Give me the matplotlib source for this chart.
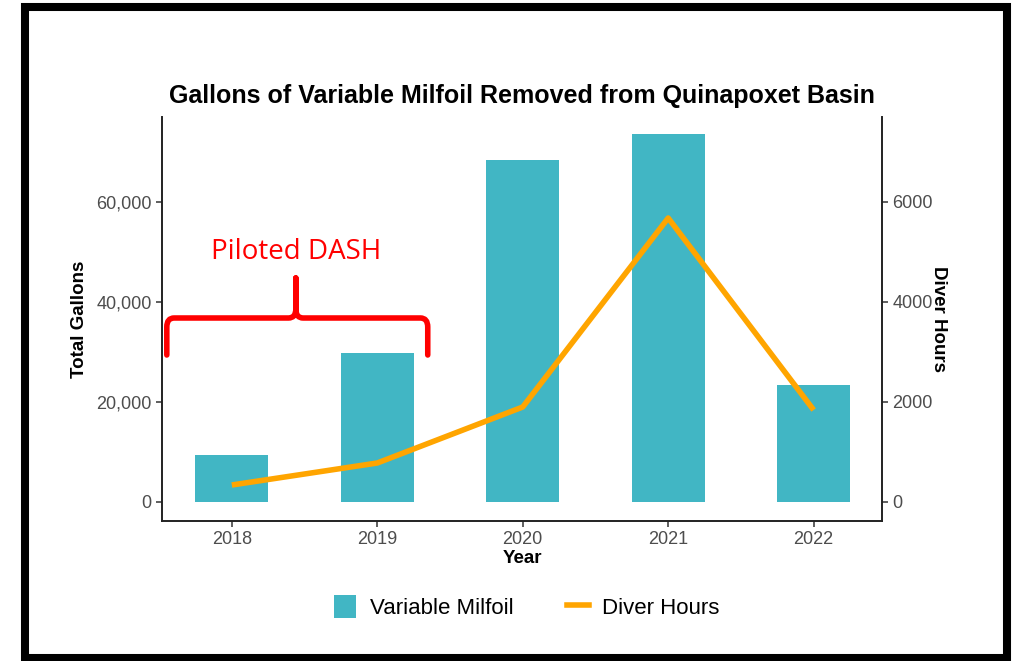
import matplotlib.pyplot as plt
from matplotlib.patches import Rectangle, PathPatch, Patch
from matplotlib.lines import Line2D
from matplotlib.path import Path
from matplotlib.ticker import FuncFormatter

plt.rcParams["font.family"] = ["Liberation Sans", "DejaVu Sans"]

years = ["2018", "2019", "2020", "2021", "2022"]
gallons = [9400, 29800, 68400, 73600, 23400]
diver_hours = [340, 780, 1900, 5680, 1840]

bar_color = "#41b6c4"
line_color = "#ffa500"
tick_gray = "#4d4d4d"

fig = plt.figure(figsize=(10.15, 6.61), dpi=100)
ax = fig.add_axes([162 / 1015, 1 - 521 / 661, 720 / 1015, 404 / 661])
x = range(len(years))
ax.bar(x, gallons, width=0.5, color=bar_color, zorder=2)
ax.set_xlim(-0.48, 4.47)
ax.set_ylim(-3800, 77000)
ax.set_yticks([0, 20000, 40000, 60000])
ax.yaxis.set_major_formatter(FuncFormatter(lambda v, p: f"{int(v):,}"))
ax.set_xticks(list(x))
ax.set_xticklabels(years)

ax2 = ax.twinx()
ax2.plot(x, diver_hours, color=line_color, lw=4, solid_capstyle="butt", zorder=3)
ax2.set_ylim(-380, 7700)
ax2.set_yticks([0, 2000, 4000, 6000])

for a in (ax, ax2):
    a.spines["top"].set_visible(False)
    for s in ("left", "right", "bottom"):
        a.spines[s].set_linewidth(1.4)
        a.spines[s].set_color("#222222")
    a.tick_params(labelsize=13, colors=tick_gray, width=1.1, length=4)
    a.tick_params(axis="both", color="#333333")
ax.spines["right"].set_visible(False)
ax2.spines["left"].set_visible(False)
ax2.spines["bottom"].set_visible(False)

ax.set_xlabel("Year", fontsize=13.5, fontweight="bold", labelpad=1)
ax.set_ylabel("Total Gallons", fontsize=13.5, fontweight="bold", labelpad=6)
ax2.set_ylabel("Diver Hours", fontsize=13.5, fontweight="bold", rotation=-90, labelpad=10)
ax.set_title("Gallons of Variable Milfoil Removed from Quinapoxet Basin",
             fontsize=18, fontweight="bold", pad=10)

# brace annotation
x0, x1, xm = -0.447, 1.347, 0.44
yb, yh, yt = 29400, 36800, 44800
rx, ry = 0.05, 1800
verts = [(x0, yb), (x0, yh - ry), (x0, yh), (x0 + rx, yh),
         (xm - rx, yh), (xm, yh), (xm, yh + ry), (xm, yt),
         (xm, yh + ry), (xm, yh), (xm + rx, yh),
         (x1 - rx, yh), (x1, yh), (x1, yh - ry), (x1, yb)]
codes = [Path.MOVETO, Path.LINETO, Path.CURVE3, Path.CURVE3,
         Path.LINETO, Path.CURVE3, Path.CURVE3, Path.LINETO,
         Path.LINETO, Path.CURVE3, Path.CURVE3,
         Path.LINETO, Path.CURVE3, Path.CURVE3, Path.LINETO]
ax.add_patch(PathPatch(Path(verts, codes), fill=False, edgecolor="red",
                       lw=4, capstyle="round", joinstyle="round", zorder=4))
ax.text(xm, 50000, "Piloted DASH", color="red", fontsize=20,
        family="Open Sans", ha="center", va="center")

handles = [Patch(facecolor=bar_color, label="Variable Milfoil"),
           Line2D([0], [0], color=line_color, lw=4, label="Diver Hours")]
fig.legend(handles=handles, loc="center", bbox_to_anchor=(527 / 1015, 1 - 607 / 661),
           ncol=2, frameon=False, fontsize=16, handlelength=1.0, handleheight=1.2,
           columnspacing=2.4, handletextpad=0.6)

fig.patches.append(Rectangle((25 / 1015, 3 / 661), 982 / 1015, 651 / 661,
                             transform=fig.transFigure, fill=False,
                             edgecolor="black", lw=5.8))

fig.savefig("out.png", dpi=100)
